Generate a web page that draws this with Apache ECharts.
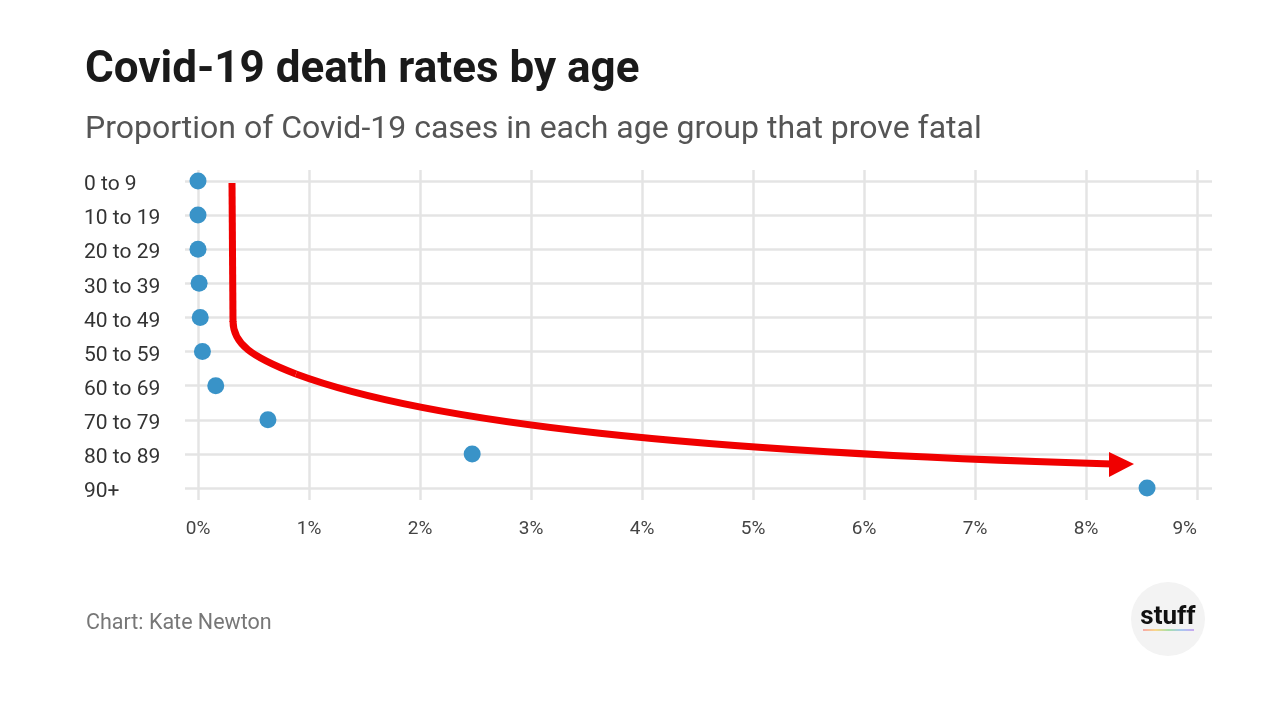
<!DOCTYPE html>
<html><head><meta charset="utf-8">
<script src="https://cdn.jsdelivr.net/npm/echarts@6/dist/echarts.min.js"></script>
<style>html,body{margin:0;padding:0;background:#fff}#c{width:1280px;height:720px}</style>
</head><body><div id="c"></div>
<script>
const ageGroups = ['0 to 9','10 to 19','20 to 29','30 to 39','40 to 49','50 to 59','60 to 69','70 to 79','80 to 89','90+'];
const deathRates = [0.00, 0.00, 0.00, 0.01, 0.02, 0.04, 0.16, 0.63, 2.47, 8.55];
const xTicks = [0,1,2,3,4,5,6,7,8,9];
const titleText = 'Covid-19 death rates by age';
const subtitleText = 'Proportion of Covid-19 cases in each age group that prove fatal';
const sourceText = 'Chart: Kate Newton';

const chart = echarts.init(document.getElementById('c'));
const FONT = 'Roboto';
const gridColor = '#e4e4e4';
const red = '#f00000';
chart.setOption({
  backgroundColor: '#fff',
  animation: false,
  title: [
    {text: titleText, left: 80, top: 44, textStyle: {fontFamily: FONT, fontWeight: 'bold', fontSize: 44, color: '#1a1a1a'}},
    {text: subtitleText, left: 80, top: 109, textStyle: {fontFamily: FONT, fontWeight: 'normal', fontSize: 32, color: '#555'}},
    {text: sourceText, left: 81, top: 608, textStyle: {fontFamily: FONT, fontWeight: 'normal', fontSize: 21.5, color: '#777'}}
  ],
  grid: [
    {left: 198, right: 83, top: 181, bottom: 232},
    {left: 198, right: 83, top: 170, bottom: 220},
    {left: 185, right: 68, top: 181, bottom: 232}
  ],
  xAxis: [
    {gridIndex: 0, type: 'value', min: xTicks[0], max: xTicks[xTicks.length-1], interval: 1,
     axisLine: {show: false}, axisTick: {show: false}, splitLine: {show: false},
     axisLabel: {margin: 32, fontFamily: FONT, fontSize: 19, color: '#444', formatter: '{value}%', alignMaxLabel: 'right'}},
    {gridIndex: 1, type: 'value', min: xTicks[0], max: xTicks[xTicks.length-1], interval: 1,
     axisLine: {show: false}, axisTick: {show: false}, axisLabel: {show: false},
     splitLine: {show: true, lineStyle: {color: gridColor, width: 2.5}}},
    {gridIndex: 2, type: 'value', show: false}
  ],
  yAxis: [
    {gridIndex: 0, type: 'category', data: ageGroups, inverse: true, boundaryGap: false,
     axisLine: {show: false}, axisTick: {show: false}, splitLine: {show: false},
     axisLabel: {align: 'left', verticalAlign: 'top', lineHeight: 8, margin: 114, fontFamily: FONT, fontSize: 21, color: '#333', interval: 0}},
    {gridIndex: 1, type: 'value', show: false},
    {gridIndex: 2, type: 'category', data: ageGroups, inverse: true, boundaryGap: false,
     axisLine: {show: false}, axisTick: {show: false}, axisLabel: {show: false},
     splitLine: {show: true, interval: 0, lineStyle: {color: gridColor, width: 2.5}}}
  ],
  series: [{
    type: 'scatter', xAxisIndex: 0, yAxisIndex: 0,
    data: deathRates.map((v, i) => [v, ageGroups[i]]),
    symbolSize: 17, itemStyle: {color: '#3993c8', opacity: 1}, z: 5
  }],
  graphic: [
    {type: 'line', z: 100, shape: {x1: 232, y1: 183, x2: 233, y2: 322}, style: {stroke: red, lineWidth: 7}},
    {type: 'bezierCurve', z: 100, shape: {x1: 233, y1: 321, cpx1: 233, cpy1: 344, cpx2: 252, cpy2: 357, x2: 296, y2: 374},
     style: {fill: null, stroke: red, lineWidth: 7}},
    {type: 'bezierCurve', z: 100, shape: {x1: 296, y1: 374, cpx1: 430, cpy1: 424, cpx2: 700, cpy2: 452, x2: 1112, y2: 464},
     style: {fill: null, stroke: red, lineWidth: 7}},
    {type: 'polygon', z: 101, shape: {points: [[1109,452],[1134,464],[1109,477]]}, style: {fill: red}},
    {type: 'circle', z: 10, shape: {cx: 1168, cy: 619, r: 37}, style: {fill: '#f3f3f3'}},
    {type: 'text', z: 11, style: {text: 'stuff', x: 1168, y: 617, align: 'center', verticalAlign: 'middle', font: 'bold 26px Roboto', fill: '#111'}},
    {type: 'rect', z: 11, shape: {x: 1143, y: 629, width: 51, height: 2},
     style: {fill: new echarts.graphic.LinearGradient(0,0,1,0,[{offset:0,color:'#f7a8a8'},{offset:0.25,color:'#f9d88a'},{offset:0.5,color:'#a8e0a8'},{offset:0.75,color:'#a8c8f0'},{offset:1,color:'#c8a8f0'}])}}
  ]
});
</script></body></html>
